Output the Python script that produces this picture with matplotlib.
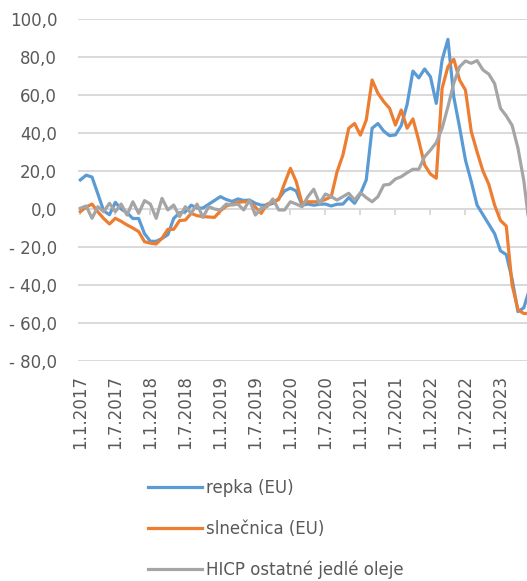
import matplotlib

matplotlib.use("Agg")
import matplotlib.pyplot as plt
import numpy as np

# monthly year-on-year change (%), Jan 2017 .. Jun 2023
repka = [
    15.3, 17.8, 16.8, 8.0, -1.0, -3.0, 3.5, 0.0, -2.0, -5.0, -5.0, -13.0,
    -17.0, -17.0, -15.5, -13.5, -5.0, -2.0, -1.5, 2.0, 0.5, 0.5, 2.5, 4.5,
    6.5, 5.0, 4.0, 5.3, 4.5, 4.7, 3.0, 2.0, 2.0, 3.0, 5.5, 9.5,
    11.0, 9.5, 2.0, 2.6, 2.0, 2.5, 2.6, 1.6, 2.5, 2.6, 6.0, 3.0,
    8.0, 15.3, 42.5, 45.0, 41.0, 38.6, 39.0, 44.0, 55.0, 72.6, 69.0, 73.7,
    69.6, 55.6, 78.4, 89.3, 59.0, 43.0, 25.8, 14.4, 2.0, -3.0, -8.0, -13.0,
    -22.0, -24.0, -37.0, -54.0, -52.0, -42.0,
]
slnecnica = [
    -1.4, 1.0, 2.6, -1.5, -5.0, -7.9, -4.9, -6.5, -8.4, -10.0, -11.9, -17.2,
    -18.0, -18.4, -15.4, -10.7, -10.7, -6.1, -5.8, -2.3, -3.5, -4.0, -4.2, -4.4,
    -1.0, 1.5, 2.6, 3.5, 3.8, 3.8, 1.0, -2.3, 2.6, 3.5, 5.0, 13.5,
    21.4, 14.4, 3.0, 3.8, 3.8, 3.8, 5.0, 6.5, 19.6, 28.4, 42.5, 45.0,
    38.9, 46.8, 67.9, 60.9, 56.5, 53.0, 44.2, 52.1, 42.5, 47.4, 36.0, 23.2,
    18.4, 16.2, 63.5, 74.9, 78.8, 67.9, 62.6, 40.7, 30.0, 20.0, 13.0, 2.0,
    -6.0, -9.0, -40.0, -53.0, -55.0, -55.0,
]
hicp_oleje = [
    0.4, 1.6, -4.9, 1.2, -1.4, 3.0, -1.4, 2.6, -3.2, 3.8, -2.3, 4.4,
    2.6, -4.9, 5.6, -0.5, 2.1, -4.0, 1.2, -2.3, 2.6, -4.4, 1.2, 0.0,
    -0.5, 2.6, 2.1, 2.6, -0.5, 4.7, -3.2, 0.4, 1.2, 5.3, -0.5, -0.5,
    3.8, 2.6, 1.2, 6.5, 10.4, 3.0, 7.9, 6.5, 4.7, 6.5, 8.3, 4.7,
    8.6, 6.0, 3.8, 6.5, 12.6, 13.0, 15.8, 17.0, 19.1, 20.9, 20.9, 27.5,
    31.0, 34.9, 42.5, 53.8, 66.2, 74.9, 77.9, 76.7, 78.1, 73.2, 71.0, 66.0,
    53.0, 49.0, 44.0, 32.0, 15.0, -10.0,
]
series_names = ["repka (EU)", "slnečnica (EU)", "HICP ostatné jedlé oleje"]
xtick_labels = [
    "1.1.2017", "1.7.2017", "1.1.2018", "1.7.2018", "1.1.2019", "1.7.2019",
    "1.1.2020", "1.7.2020", "1.1.2021", "1.7.2021", "1.1.2022", "1.7.2022",
    "1.1.2023",
]
ytick_values = [100, 80, 60, 40, 20, 0, -20, -40, -60, -80]

colors = ["#5b9bd5", "#ed7d31", "#a5a5a5"]
text_color = "#595959"
grid_color = "#d9d9d9"


def fmt_value(v):
    s = f"{abs(v):.1f}".replace(".", ",")
    return f"- {s}" if v < 0 else s


fig = plt.figure(figsize=(5.27, 5.81), dpi=100)
ax = fig.add_axes([78 / 527, 1 - 361 / 581, 1 - 78 / 527, (361 - 19) / 581])

months = np.arange(len(repka))
for values, name, color in zip([repka, slnecnica, hicp_oleje], series_names, colors):
    ax.plot(months, values, color=color, linewidth=2.3, label=name,
            solid_joinstyle="round", zorder=3)

ax.set_ylim(-80, 100)
ax.set_xlim(-0.4, 76.55)
ax.set_yticks(ytick_values)
ax.set_yticklabels([fmt_value(v) for v in ytick_values])
tick_pos = np.arange(0, 6 * len(xtick_labels), 6)
ax.set_xticks(tick_pos)
ax.set_xticklabels(xtick_labels, rotation=90)

ax.grid(axis="y", color=grid_color, linewidth=1.4, zorder=0)
ax.axhline(0, color=grid_color, linewidth=1.4, zorder=1)
ax.vlines(tick_pos, -3, 0, color=grid_color, linewidth=1.4, zorder=1)
for side in ["top", "right", "left", "bottom"]:
    ax.spines[side].set_visible(False)
ax.tick_params(axis="y", length=0, pad=15, labelsize=12, labelcolor=text_color)
ax.tick_params(axis="x", length=0, pad=10, labelsize=12, labelcolor=text_color)

fig.legend(
    loc="center left",
    bbox_to_anchor=(148 / 527, 1 - 529 / 581),
    frameon=False,
    fontsize=12,
    labelcolor=text_color,
    handlelength=3.25,
    handletextpad=0.25,
    labelspacing=1.35,
    borderpad=0,
    borderaxespad=0,
)

fig.savefig("out.png", dpi=100)
